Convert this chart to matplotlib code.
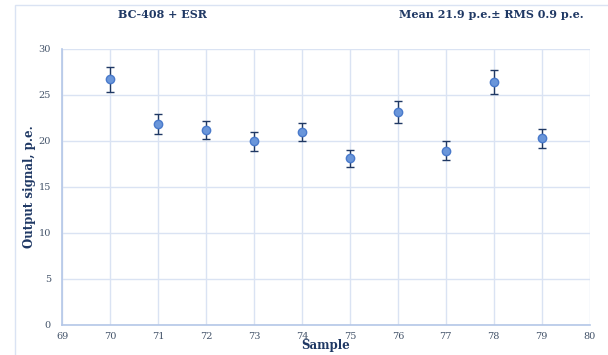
import matplotlib
matplotlib.use("Agg")
import matplotlib.pyplot as plt
from matplotlib.patches import Rectangle

# data
samples = [70, 71, 72, 73, 74, 75, 76, 77, 78, 79]
signal = [26.7, 21.85, 21.2, 19.95, 21.0, 18.1, 23.15, 18.95, 26.45, 20.3]
errors = [1.35, 1.1, 1.0, 1.0, 1.0, 0.9, 1.2, 1.0, 1.3, 1.05]

title_left = "BC-408 + ESR"
title_right = "Mean 21.9 p.e.\u00b1 RMS 0.9 p.e."

plt.rcParams["font.family"] = ["DejaVu Serif"]

fig = plt.figure(figsize=(6.08, 3.55), dpi=100)
ax = fig.add_axes([0.102, 0.085, 0.868, 0.777])

# outer chart frame
fig.patches.append(Rectangle((15 / 608, -0.05), 1.2, 0.986 + 0.05,
                             transform=fig.transFigure, fill=False,
                             edgecolor="#dae3f3", linewidth=1.0))

ax.errorbar(samples, signal, yerr=errors, fmt="o", color="#6a96da",
            markeredgecolor="#4a7acb", markersize=6, ecolor="#1f3864",
            elinewidth=1.0, capsize=3, capthick=1.0, zorder=3)

ax.set_xlim(69, 80)
ax.set_ylim(0, 30)
ax.set_xticks(range(69, 81))
ax.set_yticks(range(0, 31, 5))
ax.grid(True, color="#dae3f3", linewidth=1.0)
ax.set_axisbelow(True)

for side in ["top", "right"]:
    ax.spines[side].set_visible(False)
for side in ["left", "bottom"]:
    ax.spines[side].set_color("#b4c7e7")
    ax.spines[side].set_linewidth(1.2)

ax.tick_params(length=0, labelsize=7, colors="#44546a")
ax.tick_params(axis="x", pad=5)
ax.tick_params(axis="y", pad=8)

ax.set_xlabel("Sample", fontsize=8.5, fontweight="bold", color="#1f3864",
              labelpad=-1)
ax.set_ylabel("Output signal, p.e.", fontsize=8.5, fontweight="bold",
              color="#1f3864", labelpad=2)

fig.text(162 / 608, 1 - 15 / 355, title_left, ha="center", va="center",
         fontsize=8, fontweight="bold", color="#1f3864")
fig.text(491 / 608, 1 - 15 / 355, title_right, ha="center", va="center",
         fontsize=8, fontweight="bold", color="#1f3864")

fig.savefig("out.png", dpi=100)
